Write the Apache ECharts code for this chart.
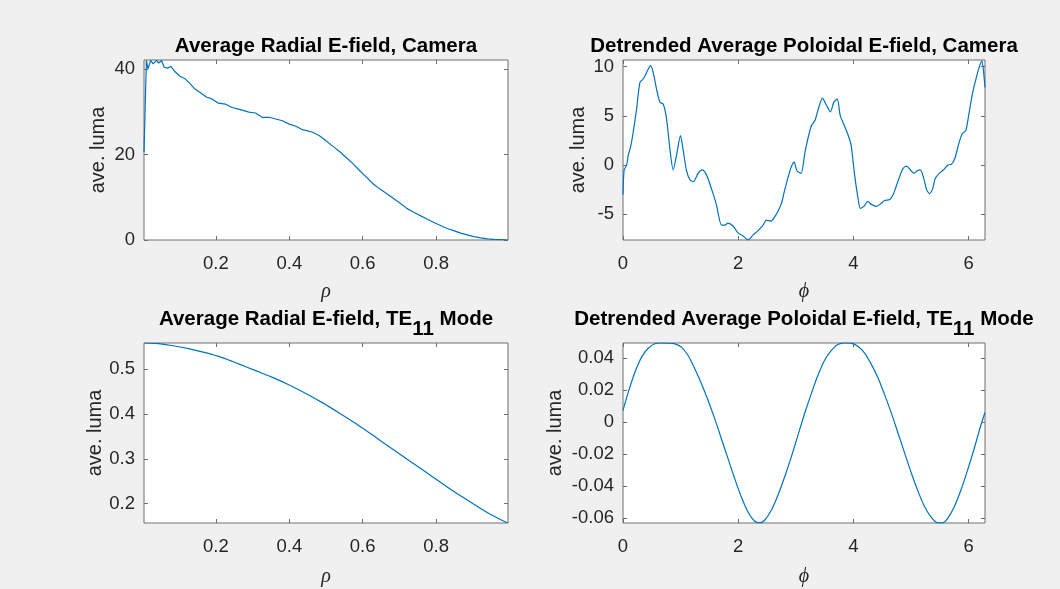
<!DOCTYPE html>
<html><head><meta charset="utf-8">
<script src="https://cdn.jsdelivr.net/npm/echarts@6/dist/echarts.min.js"></script>
<style>html,body{margin:0;padding:0;background:#f0f0f0}#c{width:1060px;height:589px}</style>
</head><body><div id="c"></div>
<script>
// ---- Panel 1: Average Radial E-field, Camera ----
const rhoCam = [0.004,0.0105,0.015,0.022,0.029,0.038,0.044,0.052,0.059,0.068,0.077,0.088,0.102,0.116,0.130,0.143,0.157,0.175,0.189,0.207,0.226,0.244,0.262,0.290,0.308,0.326,0.345,0.363,0.381,0.400,0.418,0.436,0.464,0.482,0.500,0.519,0.537,0.555,0.574,0.592,0.610,0.629,0.647,0.665,0.684,0.702,0.720,0.739,0.757,0.775,0.794,0.812,0.830,0.848,0.867,0.885,0.903,0.922,0.940,0.958,0.977,0.995];
const lumaRadCam = [20.5,42,40,42,41.2,42.0,41.4,42,40.4,40.2,40.6,39.4,38.3,37.7,36.5,35.3,34.5,33.4,33,32,31.8,31,30.6,29.9,29.7,28.7,28.7,28.3,27.9,27.1,26.6,25.8,25.2,24.4,23.2,21.9,20.7,19.3,17.8,16.2,14.7,13.1,11.9,10.9,9.7,8.6,7.4,6.5,5.7,4.9,4.1,3.4,2.7,2.2,1.6,1.2,0.8,0.5,0.25,0.15,0.08,0.0];

// ---- Panel 2: Detrended Average Poloidal E-field, Camera ----
const phiCam = [0,0.02,0.063,0.092,0.138,0.178,0.236,0.294,0.351,0.409,0.478,0.525,0.583,0.640,0.698,0.756,0.813,0.871,0.929,0.998,1.04,1.10,1.16,1.22,1.304,1.373,1.448,1.535,1.62,1.71,1.77,1.82,1.91,1.996,2.08,2.17,2.26,2.34,2.43,2.49,2.57,2.63,2.69,2.75,2.80,2.86,2.92,2.97,3.02,3.09,3.16,3.21,3.27,3.33,3.39,3.46,3.53,3.60,3.66,3.72,3.77,3.85,3.91,3.96,4.02,4.08,4.12,4.18,4.25,4.31,4.40,4.48,4.54,4.63,4.69,4.74,4.80,4.86,4.92,4.99,5.05,5.10,5.16,5.22,5.27,5.32,5.37,5.42,5.49,5.56,5.64,5.70,5.76,5.83,5.89,5.95,6.00,6.06,6.12,6.18,6.23,6.26,6.283];
const lumaPolCam = [-3.0,-0.5,0,1.0,2.0,3.4,5.7,8.4,8.75,9.4,10.1,9.4,7.7,6.4,6.2,4.7,1.7,-0.5,1.0,3.0,1.7,-0.5,-1.5,-1.7,-0.84,-0.5,-1.0,-2.4,-4.0,-6.1,-6.1,-5.9,-6.2,-6.9,-7.2,-7.6,-7.1,-6.7,-6.1,-5.6,-5.7,-5.3,-4.7,-3.9,-2.7,-1.35,-0.2,0.3,-0.6,-0.85,1.35,2.7,4.0,4.5,5.7,6.8,6.1,5.4,6.4,6.7,5.05,3.9,3.0,2.0,-1.0,-3.4,-4.4,-4.2,-3.7,-4.0,-4.2,-3.9,-3.6,-3.5,-3.0,-2.2,-1.2,-0.34,-0.1,-0.5,-0.84,-0.6,-0.5,-1.35,-2.5,-2.9,-2.5,-1.35,-0.84,-0.5,0,0.07,0.67,2.2,3.2,3.5,5.05,7.1,8.6,9.9,10.6,9.4,7.9];

// ---- Panel 3: Average Radial E-field, TE11 Mode ----
const rhoTE = [0.004,0.043,0.079,0.125,0.171,0.217,0.262,0.308,0.354,0.400,0.445,0.491,0.537,0.583,0.629,0.674,0.720,0.766,0.812,0.858,0.903,0.949,0.995];
const lumaRadTE = [0.5586,0.557,0.553,0.546,0.537,0.526,0.512,0.497,0.482,0.465,0.446,0.425,0.402,0.378,0.352,0.326,0.300,0.274,0.248,0.222,0.199,0.176,0.157];

// ---- Panel 4: Detrended Average Poloidal E-field, TE11 Mode ----
const phiTE = [0,0.092,0.207,0.323,0.438,0.553,0.669,0.784,0.9,1.015,1.13,1.246,1.362,1.477,1.593,1.708,1.823,1.939,2.054,2.17,2.285,2.372,2.458,2.574,2.689,2.805,2.92,3.036,3.151,3.267,3.382,3.497,3.613,3.728,3.844,3.96,4.075,4.19,4.306,4.421,4.536,4.652,4.767,4.883,4.998,5.114,5.229,5.344,5.46,5.547,5.633,5.748,5.864,5.979,6.095,6.21,6.283];
const lumaPolTE = [0.0073,0.0187,0.0311,0.0405,0.046,0.0488,0.0494,0.0492,0.0488,0.0467,0.0415,0.0332,0.0239,0.0135,0.002,-0.0104,-0.0228,-0.0353,-0.0467,-0.056,-0.0618,-0.0628,-0.0612,-0.055,-0.0456,-0.0342,-0.0218,-0.0083,0.0052,0.0176,0.029,0.0384,0.0446,0.0483,0.0494,0.0492,0.0473,0.0432,0.0363,0.028,0.0176,0.0062,-0.0062,-0.0187,-0.0311,-0.0425,-0.0523,-0.0591,-0.0628,-0.0628,-0.0602,-0.0529,-0.0425,-0.0301,-0.0166,-0.0021,0.0060];

// ---- Tick labels ----
const rhoTickLabels = ['0.2','0.4','0.6','0.8'];
const phiTickLabels = ['0','2','4','6'];
const radCamTickLabels = ['0','20','40'];
const polCamTickLabels = ['-5','0','5','10'];
const radTETickLabels = ['0.2','0.3','0.4','0.5'];
const polTETickLabels = ['-0.06','-0.04','-0.02','0','0.02','0.04'];

// ---- Text ----
const titles = [
  '{b|Average Radial E-field, Camera}',
  '{b|Detrended Average Poloidal E-field, Camera}',
  '{b|Average Radial E-field, TE}{s|11}{b| Mode}',
  '{b|Detrended Average Poloidal E-field, TE}{s|11}{b| Mode}'
];
const xNames = ['ρ','ϕ','ρ','ϕ'];
const yName = 'ave. luma';

const FONT = '"Liberation Sans", Arial, Helvetica, sans-serif';
const AXC = '#6e6e6e';
const TXT = '#262626';
const grids = [
  {left:144, top:60, width:364, height:180},
  {left:623, top:60, width:362, height:180},
  {left:144, top:343, width:364, height:180},
  {left:623, top:343, width:362, height:180}
];
const panels = [
  {x:rhoCam, y:lumaRadCam, xr:[0.004,0.996], yr:[0,42.1], xt:rhoTickLabels, yt:radCamTickLabels, ygap:36, xgap:42, smooth:false},
  {x:phiCam, y:lumaPolCam, xr:[0,6.2832], yr:[-7.62,10.68], xt:phiTickLabels, yt:polCamTickLabels, ygap:35, xgap:42, smooth:0.25},
  {x:rhoTE, y:lumaRadTE, xr:[0.004,0.996], yr:[0.157,0.5586], xt:rhoTickLabels, yt:radTETickLabels, ygap:39, xgap:44, smooth:0.3},
  {x:phiTE, y:lumaPolTE, xr:[0,6.2832], yr:[-0.0629,0.0493], xt:phiTickLabels, yt:polTETickLabels, ygap:58, xgap:44, smooth:0.3}
];

const xAxis = [], yAxis = [], series = [], graphic = [];
panels.forEach((p, i) => {
  const xv = p.xt.map(Number), yv = p.yt.map(Number);
  const lab = (vals, labels) => v => { let k = vals.findIndex(t => Math.abs(t - v) < 1e-9); return k >= 0 ? labels[k] : ''; };
  const base = {type:'value', gridIndex:i, axisLine:{show:false, onZero:false}, splitLine:{show:false}};
  xAxis.push(Object.assign({}, base, {
    position:'bottom', min:p.xr[0], max:p.xr[1],
    axisTick:{inside:true, length:4, lineStyle:{color:AXC}, customValues:xv},
    axisLabel:{customValues:xv, formatter:lab(xv, p.xt), margin:14, color:TXT, fontSize:18.5, fontFamily:FONT},
    name:xNames[i], nameLocation:'middle', nameGap:p.xgap,
    nameTextStyle:{fontFamily:'"Liberation Serif", "DejaVu Serif", serif', fontStyle:'italic', fontSize:20, color:TXT}
  }));
  xAxis.push(Object.assign({}, base, {
    position:'top', min:p.xr[0], max:p.xr[1],
    axisTick:{inside:true, length:4, lineStyle:{color:AXC}, customValues:xv},
    axisLabel:{show:false}
  }));
  yAxis.push(Object.assign({}, base, {
    position:'left', min:p.yr[0], max:p.yr[1],
    axisTick:{inside:true, length:4, lineStyle:{color:AXC}, customValues:yv},
    axisLabel:{customValues:yv, formatter:lab(yv, p.yt), margin:9, color:TXT, fontSize:18.5, fontFamily:FONT},
    name:yName, nameLocation:'middle', nameGap:p.ygap,
    nameTextStyle:{fontFamily:FONT, fontSize:20, color:TXT}
  }));
  yAxis.push(Object.assign({}, base, {
    position:'right', min:p.yr[0], max:p.yr[1],
    axisTick:{inside:true, length:4, lineStyle:{color:AXC}, customValues:yv},
    axisLabel:{show:false}
  }));
  series.push({
    type:'line', xAxisIndex:2*i, yAxisIndex:2*i,
    data:p.x.map((v, k) => [v, p.y[k]]),
    showSymbol:false, smooth:p.smooth, clip:true, animation:false,
    lineStyle:{color:'#0072BD', width:1.2}
  });
  const g = grids[i];
  const sub = titles[i].indexOf('{s|') >= 0;
  graphic.push({
    type:'text', x:g.left + g.width/2, y: sub ? g.top - 34 : g.top - 13,
    style:{
      text:titles[i], textAlign:'center', textVerticalAlign: sub ? 'top' : 'middle',
      rich:{
        b:{fontFamily:FONT, fontSize:20.5, fontWeight:'bold', fill:'#000', lineHeight:22, verticalAlign:'top'},
        s:{fontFamily:FONT, fontSize:20.5, fontWeight:'bold', fill:'#000', lineHeight:22, verticalAlign:'top', padding:[10,0,0,0]}
      }
    }
  });
});

const chart = echarts.init(document.getElementById('c'), null, {renderer:'canvas'});
chart.setOption({
  backgroundColor:'#f0f0f0',
  animation:false,
  grid:grids.map(g => Object.assign({show:true, backgroundColor:'#ffffff', borderColor:AXC, borderWidth:1, containLabel:false}, g)),
  xAxis, yAxis, series, graphic
});
</script></body></html>
